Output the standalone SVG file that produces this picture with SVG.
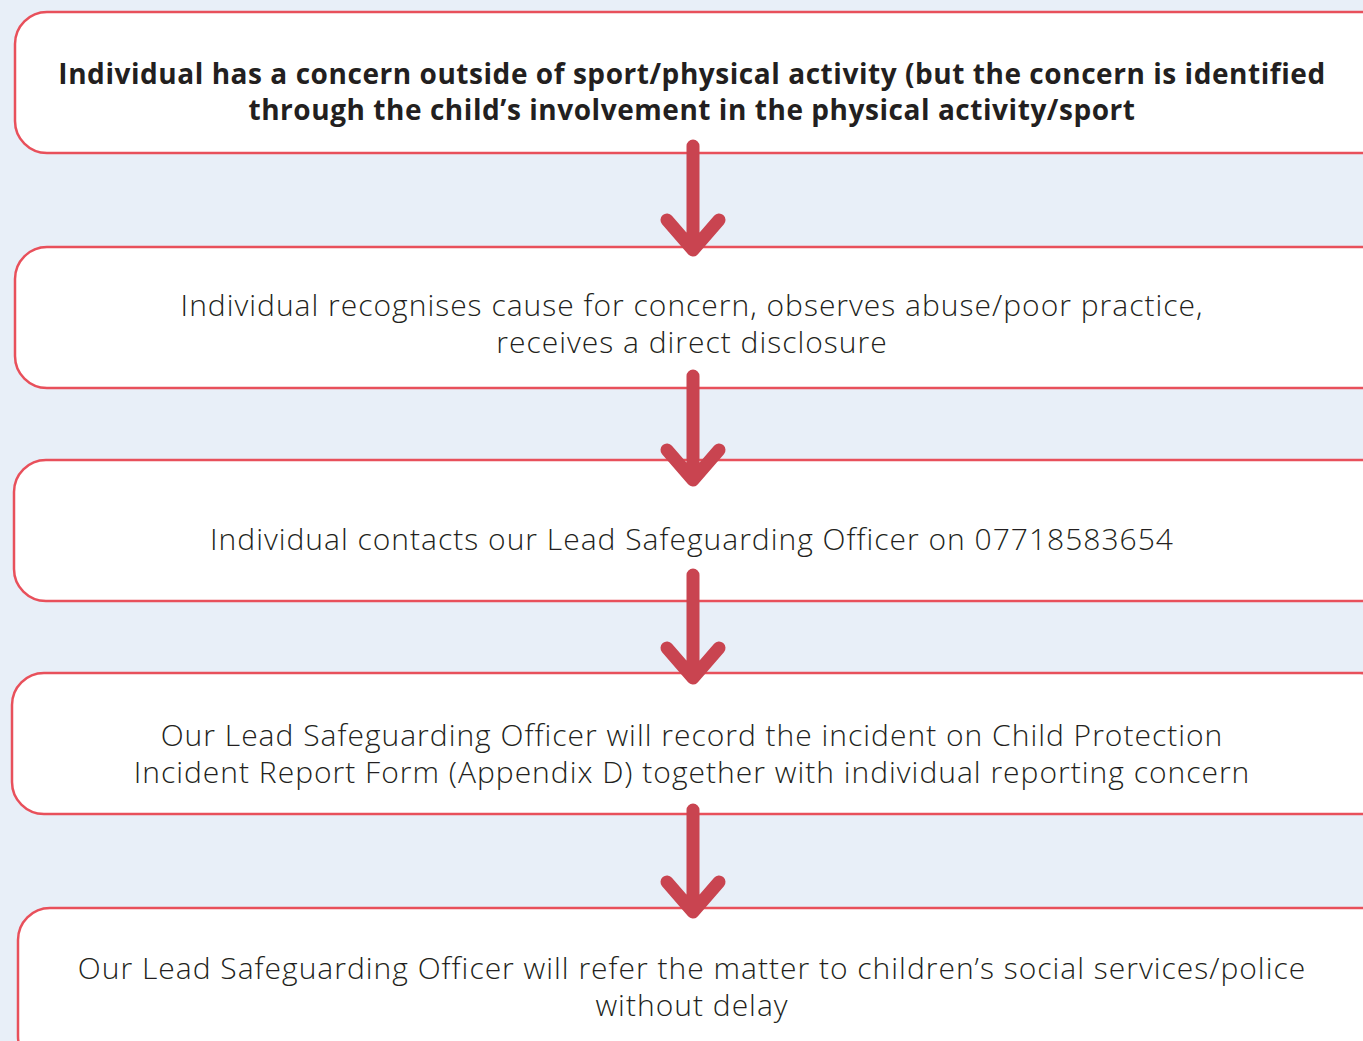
<svg xmlns="http://www.w3.org/2000/svg" width="1363" height="1041" viewBox="0 0 1363 1041">
<style>
.box{fill:#fff;stroke:#e8505b;stroke-width:2.5}
.t{font-family:"Open Sans","Liberation Sans",sans-serif;font-weight:300;font-size:30px;letter-spacing:1px;fill:#231f20;text-anchor:middle}
.b{font-weight:700;font-size:28px;letter-spacing:0.55px}
.arr{fill:none;stroke:#c94450;stroke-width:13;stroke-linecap:round;stroke-linejoin:round}
</style>
<rect width="1363" height="1041" fill="#e8eff8"/>
<g id="n1"><rect class="box" x="15" y="12" width="1380" height="141" rx="32"/>
<text class="t b" x="692" y="84">Individual has a concern outside of sport/physical activity (but the concern is identified</text>
<text class="t b" x="692" y="120">through the child’s involvement in the physical activity/sport</text></g>
<g id="n2"><rect class="box" x="15" y="247" width="1380" height="141" rx="32"/>
<text class="t" x="692" y="316">Individual recognises cause for concern, observes abuse/poor practice,</text>
<text class="t" x="692" y="353">receives a direct disclosure</text></g>
<g id="n3"><rect class="box" x="14" y="460" width="1380" height="141" rx="32"/>
<text class="t" x="692" y="550">Individual contacts our Lead Safeguarding Officer on 07718583654</text></g>
<g id="n4"><rect class="box" x="12" y="673" width="1380" height="141" rx="32"/>
<text class="t" x="692" y="746">Our Lead Safeguarding Officer will record the incident on Child Protection</text>
<text class="t" x="692" y="783">Incident Report Form (Appendix D) together with individual reporting concern</text></g>
<g id="n5"><rect class="box" x="18" y="908" width="1380" height="160" rx="32"/>
<text class="t" x="692" y="979">Our Lead Safeguarding Officer will refer the matter to children’s social services/police</text>
<text class="t" x="692" y="1016">without delay</text></g>
<g id="connectors">
<path class="arr" d="M693 146V250M667 220L693 250L719 220"/>
<path class="arr" d="M693 376V480M667 450L693 480L719 450"/>
<path class="arr" d="M693 575V678M667 648L693 678L719 648"/>
<path class="arr" d="M693 810V912M667 882L693 912L719 882"/>
</g>
</svg>
